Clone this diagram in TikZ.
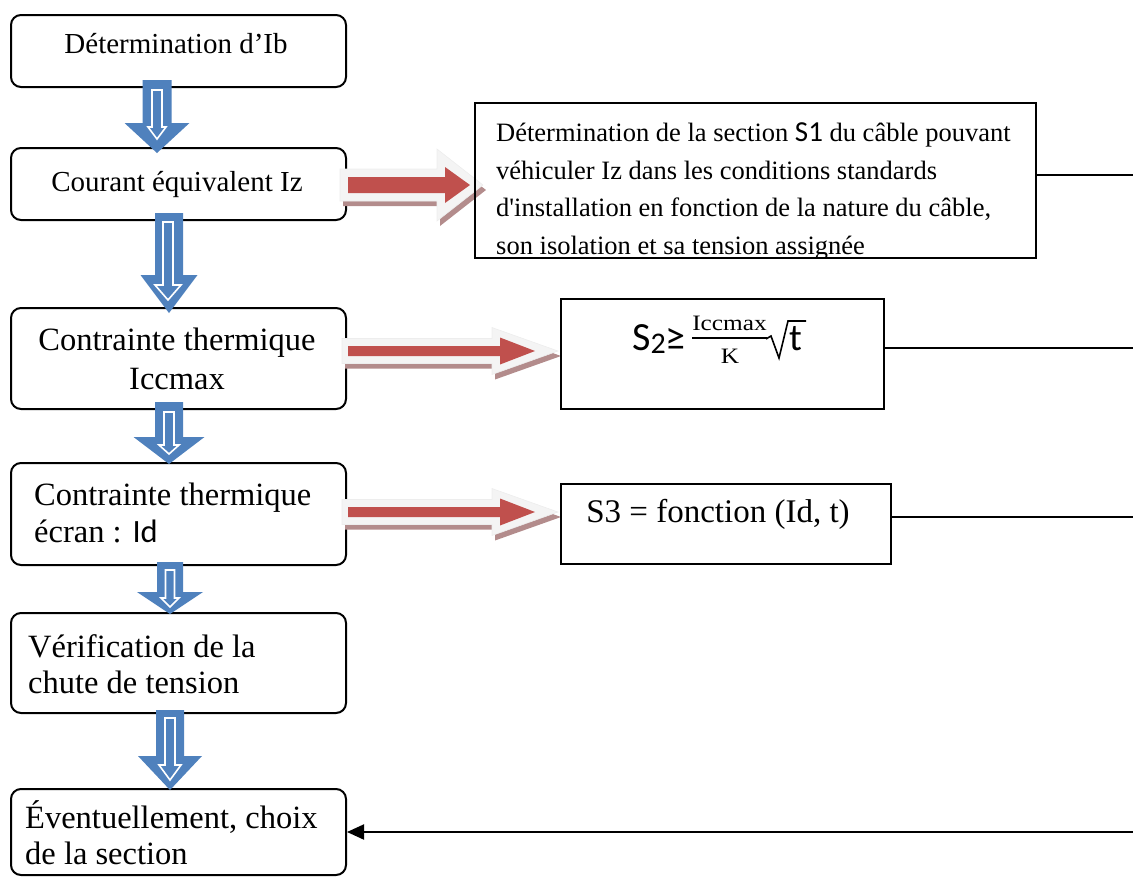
\documentclass[tikz,border=0pt]{standalone}
\usepackage{fontspec}
\setmainfont{Liberation Serif}
\newfontfamily\carlito{Carlito}
\usepackage{graphicx}
\usetikzlibrary{arrows.meta}
\definecolor{flowblue}{HTML}{4F81BD}
\definecolor{flowred}{HTML}{C0504D}
\definecolor{flowshadow}{HTML}{B38C8C}
\definecolor{flowglow}{HTML}{F4F4F4}
\newcommand\fsz[1]{\fontsize{#1}{#1}\selectfont}

\begin{document}
\begin{tikzpicture}[x=1pt,y=-1pt,
  stepbox/.style={draw, line width=2pt, rounded corners=10pt, fill=white,
    anchor=north west, inner sep=0pt, minimum width=335pt},
  infobox/.style={draw, line width=1.5pt, anchor=north west, inner sep=0pt},
  txt/.style={inner sep=0pt},
  link/.style={line width=1.5pt},
  % hollow blue down arrow: centre x, top, head base, tip, half shaft, half head
  dnarrow/.style n args={6}{insert path={({#1-#5},#2) -- ({#1+#5},#2) -- ({#1+#5},#3)
     -- ({#1+#6},#3) -- (#1,#4) -- ({#1-#6},#3) -- ({#1-#5},#3) -- cycle}},
  % block arrow to the right: start x, centre y, head base, tip, half shaft, half head
  rtarrow/.style n args={6}{insert path={(#1,{#2-#5}) -- (#3,{#2-#5}) -- (#3,{#2-#6})
     -- (#4,#2) -- (#3,{#2+#6}) -- (#3,{#2+#5}) -- (#1,{#2+#5}) -- cycle}},
  arrowshadow/.style={fill=flowshadow, shift={(3,5)}},
  arrowglow/.style={fill=flowglow, draw=black!7, line width=0.6pt},
  arrowbody/.style={fill=flowred},
  bluebody/.style={fill=flowblue},
  blueinner/.style={draw=white, line width=1.6pt},
]
\useasboundingbox (0,0) rectangle (1133,876);

% ---- left column of steps ----
\node[stepbox, minimum height=72pt]  (b1) at (10,14)  {};
\node[stepbox, minimum height=72pt]  (b2) at (10,147) {};
\node[stepbox, minimum height=101pt] (b3) at (10,307) {};
\node[stepbox, minimum height=102pt] (b4) at (10,462) {};
\node[stepbox, minimum height=100pt] (b5) at (10,612) {};
\node[stepbox, minimum height=86pt]  (b6) at (10,788) {};

\node[txt, anchor=base, font=\fsz{29}] (t1) at (176,53) {Détermination d’Ib};
\node[txt, anchor=base, font=\fsz{29}] (t2) at (177,191) {Courant équivalent Iz};
\node[txt, anchor=base, font=\fsz{32.5}] (t3a) at (177,350) {Contrainte thermique};
\node[txt, anchor=base, font=\fsz{32.5}] (t3b) at (177,389) {Iccmax};
\node[txt, anchor=base west, font=\fsz{32.5}] (t4a) at (34,505) {Contrainte thermique};
\node[txt, anchor=base west, font=\fsz{32.5}] (t4b) at (34,542) {écran : {\carlito Id}};
\node[txt, anchor=base west, font=\fsz{32.5}] (t5a) at (28,657) {Vérification de la};
\node[txt, anchor=base west, font=\fsz{32.5}] (t5b) at (28,693) {chute de tension};
\node[txt, anchor=base west, font=\fsz{32.5}] (t6a) at (25,828) {Éventuellement, choix};
\node[txt, anchor=base west, font=\fsz{32.5}] (t6b) at (25,864) {de la section};

% ---- blue down arrows between the steps ----
\fill[bluebody, dnarrow={157}{80}{123}{153}{14.5}{32.5}];
\draw[blueinner, dnarrow={157}{90}{127}{139}{5}{9}];
\fill[bluebody, dnarrow={169}{213}{275}{313}{14}{28.5}];
\draw[blueinner, dnarrow={168}{222}{285}{300}{5}{13}];
\fill[bluebody, dnarrow={169}{402}{437}{464}{14}{35.5}];
\draw[blueinner, dnarrow={169}{412}{445}{454}{5}{10}];
\fill[bluebody, dnarrow={170}{562}{592}{614}{13}{33}];
\draw[blueinner, dnarrow={170}{570}{598}{607}{4.5}{9}];
\fill[bluebody, dnarrow={170}{710}{756}{790}{14}{32}];
\draw[blueinner, dnarrow={170}{718}{765}{780}{5}{11}];

% ---- red arrows towards the section boxes ----
\fill[arrowshadow, rtarrow={340}{185}{437}{483}{16}{36}];
\path[arrowglow, rtarrow={340}{185}{437}{483}{16}{36}];
\fill[arrowbody, rtarrow={348}{185}{445}{470}{8}{18}];

\fill[arrowshadow, rtarrow={342}{351}{492}{558}{12.5}{23.5}];
\path[arrowglow, rtarrow={342}{351}{492}{558}{12.5}{23.5}];
\fill[arrowbody, rtarrow={348}{351}{500}{535}{5}{13.5}];

\fill[arrowshadow, rtarrow={342}{512}{492}{558}{12.5}{23.5}];
\path[arrowglow, rtarrow={342}{512}{492}{558}{12.5}{23.5}];
\fill[arrowbody, rtarrow={348}{512}{500}{535}{5}{13.5}];

% ---- section boxes ----
\node[infobox, minimum width=561pt, minimum height=155pt] (s1) at (474,102) {};
\begin{scope}
  \clip (s1.north west) rectangle (s1.south east);
  \node[txt, anchor=base west, font=\fsz{26.5}] (s1a) at (496,141.5)
    {Détermination de la section {\carlito\fsz{29}S1} du câble pouvant};
  \node[txt, anchor=base west, font=\fsz{26.5}] (s1b) at (496,179)
    {véhiculer Iz dans les conditions standards};
  \node[txt, anchor=base west, font=\fsz{26.5}] (s1c) at (496,216.5)
    {d\textquotesingle installation en fonction de la nature du câble,};
  \node[txt, anchor=base west, font=\fsz{26.5}] (s1d) at (496,254)
    {son isolation et sa tension assignée};
\end{scope}

\node[infobox, minimum width=323pt, minimum height=110pt] (s2) at (560,298) {};
\node[txt, anchor=base east, font=\carlito\fsz{40}] (s2lhs) at (686,350)
  {S\raisebox{-3pt}{\fsz{30}2}≥};
\node[txt, anchor=base, font=\fsz{22}] (s2num) at (729.5,330) {\scalebox{1.15}[1]{Iccmax}};
\draw[line width=1.8pt] (692,338) -- (767,338);
\node[txt, anchor=base, font=\fsz{22}] (s2den) at (730,363) {\scalebox{1.15}[1]{K}};
\draw[line width=1.6pt, line join=miter] (766,339) -- (771,336) -- (779,358) -- (788,321) -- (806,321);
\node[txt, anchor=base west, font=\carlito\fsz{38}] (s2rad) at (789,350) {t};

\node[infobox, minimum width=330pt, minimum height=80pt] (s3) at (560,483) {};
\node[txt, anchor=base, font=\fsz{33}] (s3t) at (718,522) {S3 = fonction (Id, t)};

% ---- links to the final choice ----
\coordinate (e1) at (1133,175);
\coordinate (e2) at (1133,348);
\coordinate (e3) at (1133,517);
\coordinate (e4) at (1133,832);
\draw[link] (s1.east |- e1) -- (e1);
\draw[link] (s2.east |- e2) -- (e2);
\draw[link] (s3.east |- e3) -- (e3);
\draw[line width=2pt, -{Triangle[length=17pt,width=15pt]}] (e4) -- (b6.east |- e4);
\end{tikzpicture}
\end{document}
